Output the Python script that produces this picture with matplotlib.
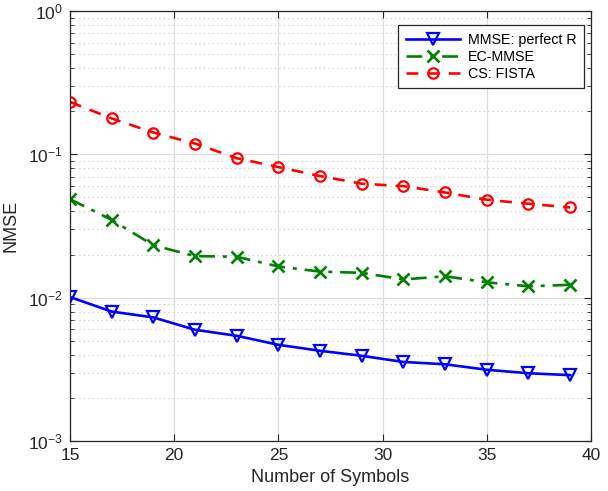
import matplotlib
matplotlib.use("Agg")
import matplotlib.pyplot as plt
from matplotlib.ticker import LogLocator, NullFormatter, FuncFormatter
import numpy as np

plt.rcParams['font.family'] = ['Liberation Sans', 'DejaVu Sans']
plt.rcParams['mathtext.fontset'] = 'custom'
plt.rcParams['mathtext.rm'] = 'Liberation Sans'
plt.rcParams['mathtext.it'] = 'Liberation Sans'
plt.rcParams['axes.unicode_minus'] = False

symbols = [15, 17, 19, 21, 23, 25, 27, 29, 31, 33, 35, 37, 39]
nmse_perfect = [0.0101, 0.0080, 0.00728, 0.00597, 0.00542, 0.00469, 0.00426,
                0.00393, 0.00356, 0.00343, 0.00314, 0.00297, 0.00288]
nmse_ec = [0.0487, 0.0349, 0.0232, 0.0195, 0.0193, 0.0165, 0.0152,
           0.0149, 0.0134, 0.0141, 0.0128, 0.0120, 0.0123]
nmse_cs = [0.232, 0.178, 0.142, 0.119, 0.094, 0.0815, 0.0705,
           0.0624, 0.060, 0.0542, 0.0482, 0.0452, 0.0426]
labels = ["MMSE: perfect R", "EC-MMSE", "CS: FISTA"]

fig = plt.figure(figsize=(6.08, 4.91), dpi=100)
ax = fig.add_axes([70 / 608, 50 / 491, 521 / 608, 430 / 491])

ax.semilogy(symbols, nmse_perfect, '-', color='#0000ff', lw=1.9, marker='v',
            ms=8, mfc='none', mec='#0000ff', mew=1.6, label=labels[0])
ax.semilogy(symbols, nmse_ec, '-.', color='#008000', lw=1.9, marker='x',
            ms=8, mec='#008000', mew=1.9, label=labels[1],
            dashes=(6, 3, 1.5, 3))
ax.semilogy(symbols, nmse_cs, '--', color='#ff0000', lw=1.9, marker='o',
            ms=7.5, mfc='none', mec='#ff0000', mew=1.6, label=labels[2],
            dashes=(4.5, 3.5))

ax.set_xlim(15, 40)
ax.set_ylim(1e-3, 1)
ax.set_xticks([15, 20, 25, 30, 35, 40])
ax.yaxis.set_major_locator(LogLocator(base=10, numticks=10))
ax.yaxis.set_major_formatter(FuncFormatter(
    lambda v, p: r'$\mathregular{10^{%d}}$' % int(round(np.log10(v)))))
ax.yaxis.set_minor_locator(LogLocator(base=10, subs=range(2, 10), numticks=20))
ax.yaxis.set_minor_formatter(NullFormatter())

ax.grid(True, which='major', color='#dedede', lw=0.9, ls='-')
ax.grid(True, which='minor', axis='y', color='#c4c4c4', lw=0.8, ls=(0, (1, 3)))
ax.set_axisbelow(True)

for s in ax.spines.values():
    s.set_color('#262626')
    s.set_linewidth(0.9)
ax.tick_params(which='both', direction='in', top=True, right=True,
               colors='#262626', labelsize=12.5)
ax.tick_params(which='major', length=5, pad=5)
ax.tick_params(which='minor', length=3)

ax.set_xlabel('Number of Symbols', fontsize=13, color='#262626', labelpad=4)
ax.set_ylabel('NMSE', fontsize=13, color='#262626', labelpad=6)

leg = ax.legend(loc='upper right', bbox_to_anchor=(514 / 521, 416 / 430),
                fontsize=10.3, frameon=True, fancybox=False,
                edgecolor='#262626', framealpha=1, borderaxespad=0,
                handlelength=3.8, handletextpad=0.5, borderpad=0.55,
                labelspacing=0.2)
leg.get_frame().set_linewidth(0.9)

fig.savefig('out.png', dpi=100)
